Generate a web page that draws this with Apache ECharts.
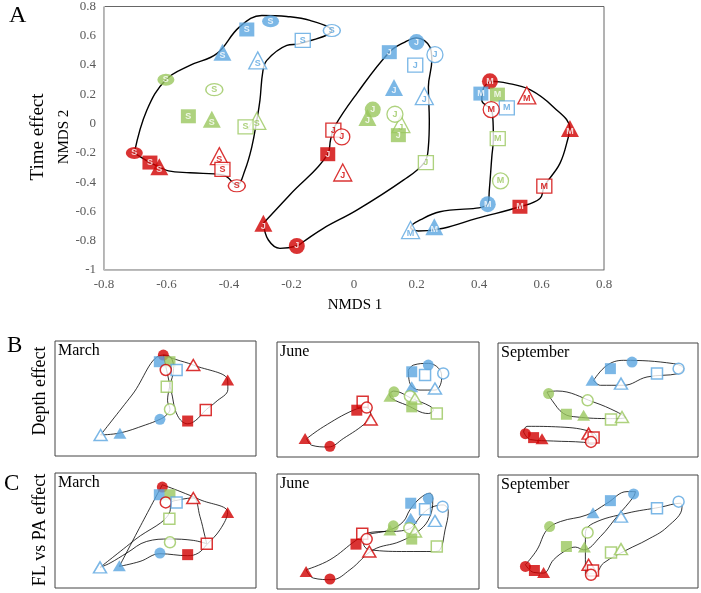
<!DOCTYPE html>
<html><head><meta charset="utf-8">
<script src="https://cdn.jsdelivr.net/npm/echarts@6/dist/echarts.min.js"></script>
<style>html,body{margin:0;padding:0;background:#fff}#c{width:701px;height:593px}</style>
</head><body><div id="c"></div>
<script>
// ---------- Panel A (Time effect): [NMDS1, NMDS2, colour, shape, filled] ----------
const timeS = [
  [-0.267,0.700,'b','circle',1],[-0.343,0.643,'b','rect',1],[-0.164,0.568,'b','rect',0],
  [-0.071,0.636,'b','circle',0],[-0.421,0.488,'b','triangle',1],[-0.308,0.432,'b','triangle',0],
  [-0.602,0.300,'g','circle',1],[-0.447,0.232,'g','circle',0],[-0.530,0.050,'g','rect',1],
  [-0.455,0.030,'g','triangle',1],[-0.311,0.018,'g','triangle',0],[-0.347,-0.023,'g','rect',0],
  [-0.703,-0.200,'r','circle',1],[-0.653,-0.266,'r','rect',1],[-0.623,-0.295,'r','triangle',1],
  [-0.431,-0.222,'r','triangle',0],[-0.421,-0.313,'r','rect',0],[-0.375,-0.425,'r','circle',0]
];
const timeJ = [
  [0.200,0.557,'b','circle',1],[0.113,0.488,'b','rect',1],[0.259,0.471,'b','circle',0],
  [0.196,0.400,'b','rect',0],[0.128,0.246,'b','triangle',1],[0.225,0.187,'b','triangle',0],
  [0.043,0.041,'g','triangle',1],[0.060,0.096,'g','circle',1],[0.150,-0.004,'g','triangle',0],
  [0.131,0.064,'g','circle',0],[0.142,-0.079,'g','rect',1],[0.230,-0.266,'g','rect',0],
  [-0.066,-0.045,'r','rect',0],[-0.039,-0.091,'r','circle',0],[-0.084,-0.209,'r','rect',1],
  [-0.036,-0.334,'r','triangle',0],[-0.290,-0.681,'r','triangle',1],[-0.183,-0.836,'r','circle',1]
];
const timeM = [
  [0.435,0.289,'r','circle',1],[0.406,0.205,'b','rect',1],[0.459,0.198,'g','rect',1],
  [0.489,0.107,'b','rect',0],[0.439,0.096,'r','circle',0],[0.553,0.193,'r','triangle',0],
  [0.691,-0.034,'r','triangle',1],[0.460,-0.102,'g','rect',0],[0.469,-0.391,'g','circle',0],
  [0.609,-0.427,'r','rect',0],[0.531,-0.568,'r','rect',1],[0.428,-0.550,'b','circle',1],
  [0.257,-0.704,'b','triangle',1],[0.181,-0.727,'b','triangle',0]
];
const hullS = [[-0.703,-0.200],[-0.663,0.091],[-0.602,0.300],[-0.525,0.398],[-0.439,0.478],[-0.367,0.659],
  [-0.295,0.739],[-0.215,0.732],[-0.141,0.705],[-0.071,0.636],[-0.173,0.546],[-0.215,0.534],[-0.279,0.432],
  [-0.292,0.352],[-0.301,0.159],[-0.311,0.023],[-0.327,-0.159],[-0.349,-0.318],[-0.375,-0.420],
  [-0.418,-0.352],[-0.525,-0.336],[-0.594,-0.323],[-0.623,-0.295],[-0.653,-0.266],[-0.703,-0.200]];
const hullJ = [[-0.290,-0.681],[-0.205,-0.486],[-0.084,-0.209],[-0.075,-0.110],[-0.062,-0.020],[0.009,0.205],
  [0.113,0.488],[0.163,0.557],[0.200,0.586],[0.243,0.523],[0.249,0.432],[0.238,0.250],[0.241,0.023],
  [0.238,-0.159],[0.225,-0.266],[0.158,-0.386],[0.009,-0.591],[-0.098,-0.715],[-0.162,-0.807],
  [-0.183,-0.836],[-0.237,-0.852],[-0.274,-0.795],[-0.290,-0.681]];
const hullM = [[0.435,0.289],[0.489,0.277],[0.563,0.232],[0.638,0.114],[0.691,-0.034],[0.686,-0.091],
  [0.659,-0.272],[0.609,-0.427],[0.595,-0.511],[0.531,-0.568],[0.393,-0.647],[0.286,-0.715],[0.206,-0.734],
  [0.181,-0.710],[0.222,-0.647],[0.275,-0.602],[0.428,-0.550],[0.433,-0.454],[0.441,-0.227],[0.446,-0.102],
  [0.444,0.045],[0.439,0.096],[0.409,0.159],[0.414,0.239],[0.435,0.289]];

// ---------- Panel B (Depth effect) ----------
const depthMar = [
  [53.9,87.8,'r','circle',1],[51.9,82,'b','rect',1],[57.2,82,'g','rect',1],[60.5,74.8,'b','rect',0],
  [55.1,74.8,'r','circle',0],[68.8,79.1,'r','triangle',0],[85.9,66.1,'r','triangle',1],[55.6,60.3,'g','rect',0],
  [57.2,40.6,'g','circle',0],[75,40,'r','rect',0],[52.2,31.9,'b','circle',1],[66,30.4,'r','rect',1],
  [32.3,19.7,'b','triangle',1],[22.7,18.3,'b','triangle',0]
];
const depthMarHulls = [
  [[22.7,18.3],[38.3,53],[53.9,87.8],[57.5,86],[59,76],[57,60],[56,48],[57.2,40.6],[55,35],[52.2,31.9],[45,27],[32.3,20],[22.7,18.3]],
  [[53.9,87.8],[60,84],[68.8,79.1],[85.9,66.1],[86,58],[80,47],[75,40],[70,31],[66,28],[61,35],[58,55],[55.5,75],[53.9,87.8]]
];
const depthJun = [
  [66.7,74.1,'b','rect',1],[74.9,79.9,'b','circle',1],[73.3,71.2,'b','rect',0],[82.3,72.7,'b','circle',0],
  [66.7,61,'b','triangle',1],[78.2,59.6,'b','triangle',0],[57.9,56.7,'g','circle',1],[55.9,52.9,'g','triangle',1],
  [65.8,52.9,'g','circle',0],[68.3,50.9,'g','triangle',0],[66.7,43.6,'g','rect',1],[79.1,37.8,'g','rect',0],
  [42.4,48,'r','rect',0],[39.5,40.7,'r','rect',1],[44.4,43,'r','circle',0],[46.4,32.6,'r','triangle',0],
  [13.9,16,'r','triangle',1],[26.2,9.3,'r','circle',1]
];
const depthJunHulls = [
  [[65,75.6],[67.5,79.9],[74.9,81.4],[80.7,75.6],[81.5,68.4],[78.2,58.2],[70.8,58.2],[65.8,64],[65,75.6]],
  [[55.6,54.7],[57.6,57.3],[67.5,50.3],[75.7,44.2],[77.4,40.7],[74.9,37.8],[64.2,45.1],[56.8,50.9],[55.6,54.7]],
  [[14.7,16],[17.2,10.2],[25.4,8.7],[32.8,16],[44.4,30.5],[46.4,37.8],[44.4,43],[37.8,40.7],[22.9,26.2],[14.7,16]]
];
const depthSep = [
  [56.2,77.5,'b','rect',1],[67,83.3,'b','circle',1],[79.5,73.2,'b','rect',0],[90.3,77.5,'b','circle',0],
  [47,67.3,'b','triangle',1],[61.5,64.4,'b','triangle',0],[25.3,55.6,'g','circle',1],[44.8,49.7,'g','circle',0],
  [34.2,37.5,'g','rect',1],[42.8,36.6,'g','triangle',1],[56.5,32.8,'g','rect',0],[62,35.1,'g','triangle',0],
  [13.7,20.5,'r','circle',1],[17.8,17,'r','rect',1],[22,16.1,'r','triangle',1],[45.3,20.5,'r','triangle',0],
  [47.8,17,'r','rect',0],[46.5,13.2,'r','circle',0]
];
const depthSepHulls = [
  [[47.8,67.3],[54.5,80.4],[62.8,84.8],[87.8,81.9],[92.8,77.5],[90.3,73.2],[74.5,70.2],[62.8,62.9],[51.2,62.9],[47.8,67.3]],
  [[24.5,57],[29.5,57.9],[47.8,48.2],[59.5,39.5],[63.7,34.6],[56.2,33.7],[39.5,35.1],[32.8,38.1],[27,49.7],[24.5,57]],
  [[12.8,21.9],[14.5,26.9],[31.2,26.3],[47,21.9],[49.5,16.1],[47,11.1],[42.8,12.9],[27.8,14],[16.2,15.3],[12.8,21.9]]
];

// ---------- Panel C (FL vs PA effect) ----------
const fracMar = [
  [53.4,87.8,'r','circle',1],[51.9,81.1,'b','rect',1],[57.2,81.1,'g','rect',1],[55.1,74.4,'r','circle',0],
  [60.5,74.4,'b','rect',0],[68.8,78.3,'r','triangle',0],[85.9,65.7,'r','triangle',1],[56.9,60.3,'g','rect',0],
  [57.2,39.7,'g','circle',0],[75.5,38.5,'r','rect',0],[52.2,30.4,'b','circle',1],[66,29,'r','rect',1],
  [32,19.4,'b','triangle',1],[22.4,17.9,'b','triangle',0]
];
const fracMarHulls = [
  [[53.4,89.8],[62.2,84],[72.1,76.8],[85.9,65.7],[82.1,50.7],[75.5,37.7],[71.3,30.4],[66,28.1],[52.2,29.8],[42.3,23.1],[32,18.8],[42.6,54.2],[53.4,89.8]],
  [[22.4,17.9],[39.8,42],[57.2,66.6],[57.6,73.9],[62.2,76.8],[68.8,78.3],[72.1,62.3],[74.6,44.9],[75.5,38.5],[68.8,41.4],[57.2,42.6],[45.6,40.5],[35.7,30.4],[27.4,21.7],[22.4,17.9]]
];
const fracJun = [
  [66.2,74.6,'b','rect',1],[74.9,78.9,'b','circle',1],[73.3,69.4,'b','rect',0],[82,71.6,'b','circle',0],
  [66.2,61.6,'b','triangle',1],[78.2,59.2,'b','triangle',0],[57.6,54.9,'g','circle',1],[65.5,52.9,'g','circle',0],
  [55.9,51.4,'g','triangle',1],[68.3,50,'g','triangle',0],[66.7,43.4,'g','rect',1],[79.1,36.9,'g','rect',0],
  [42.2,48,'r','rect',0],[39.1,39,'r','rect',1],[44.4,43.4,'r','circle',0],[45.7,32.6,'r','triangle',0],
  [14.4,15.3,'r','triangle',1],[26.2,8.7,'r','circle',1]
];
const fracJunHulls = [
  [[14.4,16.7],[26.2,25.4],[39.5,42.8],[44.4,47.1],[55.9,51.4],[62.5,58.6],[65.8,68.8],[70.8,78.9],[75.7,83.3],[77.1,77.5],[75.7,63],[70.8,51.4],[60.9,41.3],[47.7,34.1],[36.1,16.7],[27.1,8.1],[18,9.5],[14.4,16.7]],
  [[42.7,42.8],[44.4,48.6],[64.2,51.4],[72.4,65.9],[76.6,71.1],[82.3,73.1],[84.8,67.3],[83.2,51.4],[80.7,34.1],[77.4,32.6],[64.2,32.6],[46,34.1],[43.1,37.6],[42.7,42.8]]
];
const fracSep = [
  [56.2,77.3,'b','rect',1],[67.8,83.2,'b','circle',1],[79.5,70.6,'b','rect',0],[90.3,76.4,'b','circle',0],
  [47.5,66.7,'b','triangle',1],[61.5,63.2,'b','triangle',0],[25.8,54.4,'g','circle',1],[44.8,49.1,'g','circle',0],
  [34.2,36.7,'g','rect',1],[43.2,36.2,'g','triangle',1],[56.5,31.4,'g','rect',0],[61.5,34.4,'g','triangle',0],
  [13.7,19.1,'r','circle',1],[18.2,15.5,'r','rect',1],[22.8,13.8,'r','triangle',1],[45.3,20.6,'r','triangle',0],
  [47.5,15.5,'r','rect',0],[46.5,11.7,'r','circle',0]
];
const fracSepHulls = [
  [[13.7,20.6],[19.5,33.8],[24.5,51.5],[31.2,58.8],[44.5,64.7],[54.5,75],[64.5,85.3],[68.7,85.3],[67.8,80.8],[59.5,63.2],[51.2,45.5],[42.8,33.8],[38.7,36.2],[34.5,33.8],[27.8,25],[22.8,13.2],[17.8,13.8],[13.7,20.6]],
  [[43.7,12.6],[43.7,48.5],[47.8,57.4],[64.5,66.2],[81.2,71.5],[91.2,75],[92,71.5],[84.5,53.8],[74.5,42.6],[64.5,33.8],[52.8,22.1],[48.7,13.2],[43.7,12.6]]
];

const monthLabels = ['March','June','September'];
const xTicksA = [-0.8,-0.6,-0.4,-0.2,0,0.2,0.4,0.6,0.8];

// ---------- rendering ----------
const COL = {b:'#5AA5E0', g:'#9AC75E', r:'#D10000'};
const SERIF = 'Liberation Serif';

function markerItems(points, letter, big) {
  return points.map(p => {
    const [x, y, c, shape, fill] = p;
    const col = COL[c];
    let size;
    if (big) {
      if (shape === 'circle') size = letter === 'S' ? [17, 12] : 16;
      else if (shape === 'rect') size = [15, 14];
      else size = [18, 17];
    } else {
      size = shape === 'triangle' ? [13, 11] : 11;
    }
    return {
      value: [x, y], symbol: shape, symbolSize: size,
      itemStyle: fill ? {color: col, borderWidth: 0} : {color: '#fff', borderColor: col, borderWidth: big ? 1.3 : 1.5},
      label: big ? {show: true, formatter: letter, position: 'inside', color: fill ? '#fff' : col,
        fontSize: 9, fontWeight: 'bold', fontFamily: 'Liberation Sans',
        offset: shape === 'triangle' ? [0, 3] : [0, 0]} : {show: false}
    };
  });
}
function hullSeries(pts, gi, w) {
  return {type: 'line', xAxisIndex: gi, yAxisIndex: gi, data: pts, smooth: 0.4, symbol: 'none',
    lineStyle: {color: '#000', width: w}, z: 1, silent: true, animation: false};
}
function scatterSeries(items, gi) {
  return {type: 'scatter', xAxisIndex: gi, yAxisIndex: gi, data: items, z: 3, silent: true, animation: false};
}

const grids = [
  {left: 104, top: 6, width: 500, height: 264},
  {left: 55, top: 341, width: 201, height: 115},
  {left: 277, top: 342, width: 202, height: 115},
  {left: 498, top: 343, width: 200, height: 114},
  {left: 55, top: 473, width: 201, height: 115},
  {left: 277, top: 474, width: 202, height: 115},
  {left: 498, top: 475, width: 200, height: 113}
].map((g, i) => Object.assign(g, {show: true, borderColor: i === 0 ? '#666' : '#444', borderWidth: 1, backgroundColor: '#fff'}));

const xAxes = [{
  gridIndex: 0, type: 'value', min: -0.8, max: 0.8, interval: 0.2,
  axisLine: {show: true, onZero: false, lineStyle: {color: '#bdbdbd'}}, axisTick: {show: false}, splitLine: {show: false},
  axisLabel: {fontFamily: SERIF, fontSize: 13, color: '#595959', margin: 8,
    formatter: v => { const t = xTicksA.find(k => Math.abs(k - v) < 1e-6); return t === undefined ? '' : String(t); }}
}];
const yAxes = [{
  gridIndex: 0, type: 'value', min: -1, max: 0.8, interval: 0.2,
  axisLine: {show: true, onZero: false, lineStyle: {color: '#bdbdbd'}}, axisTick: {show: false}, splitLine: {show: false},
  axisLabel: {fontFamily: SERIF, fontSize: 13, color: '#595959', margin: 8,
    formatter: v => String(Math.round(v * 10) / 10)}
}];
for (let i = 1; i <= 6; i++) {
  xAxes.push({gridIndex: i, type: 'value', min: 0, max: 100, show: false});
  yAxes.push({gridIndex: i, type: 'value', min: 0, max: 100, show: false});
}

const series = [];
[hullS, hullJ, hullM].forEach(h => series.push(hullSeries(h, 0, 1.4)));
series.push(scatterSeries(markerItems(timeS, 'S', true), 0));
series.push(scatterSeries(markerItems(timeJ, 'J', true), 0));
series.push(scatterSeries(markerItems(timeM, 'M', true), 0));
const small = [
  [depthMar, depthMarHulls], [depthJun, depthJunHulls], [depthSep, depthSepHulls],
  [fracMar, fracMarHulls], [fracJun, fracJunHulls], [fracSep, fracSepHulls]
];
small.forEach(([pts, hulls], k) => {
  const gi = k + 1;
  hulls.forEach(h => series.push(hullSeries(h, gi, 0.8)));
  series.push(scatterSeries(markerItems(pts, '', false), gi));
});

const graphic = [
  {type: 'text', left: 9, top: 4, style: {text: 'A', font: '24px "Liberation Serif"', fill: '#000'}},
  {type: 'text', x: 38, y: 137, rotation: Math.PI / 2, style: {text: 'Time effect', font: '19px "Liberation Serif"', fill: '#000', align: 'center', verticalAlign: 'middle'}},
  {type: 'text', x: 64, y: 137, rotation: Math.PI / 2, style: {text: 'NMDS 2', font: '15px "Liberation Serif"', fill: '#000', align: 'center', verticalAlign: 'middle'}},
  {type: 'text', x: 355, y: 305, style: {text: 'NMDS 1', font: '15px "Liberation Serif"', fill: '#000', align: 'center', verticalAlign: 'middle'}},
  {type: 'text', left: 7, top: 334, style: {text: 'B', font: '23px "Liberation Serif"', fill: '#000'}},
  {type: 'text', x: 40, y: 391, rotation: Math.PI / 2, style: {text: 'Depth effect', font: '18px "Liberation Serif"', fill: '#000', align: 'center', verticalAlign: 'middle'}},
  {type: 'text', left: 4, top: 472, style: {text: 'C', font: '23px "Liberation Serif"', fill: '#000'}},
  {type: 'text', x: 40, y: 530, rotation: Math.PI / 2, style: {text: 'FL vs PA effect', font: '18px "Liberation Serif"', fill: '#000', align: 'center', verticalAlign: 'middle'}}
];
grids.slice(1).forEach((g, i) => {
  graphic.push({type: 'text', left: g.left + 3, top: g.top + 2, z: 10,
    style: {text: monthLabels[i % 3], font: '16px "Liberation Serif"', fill: '#000'}});
});

const chart = echarts.init(document.getElementById('c'), null, {renderer: 'canvas'});
chart.setOption({animation: false, grid: grids, xAxis: xAxes, yAxis: yAxes, series, graphic});
</script>
</body></html>
